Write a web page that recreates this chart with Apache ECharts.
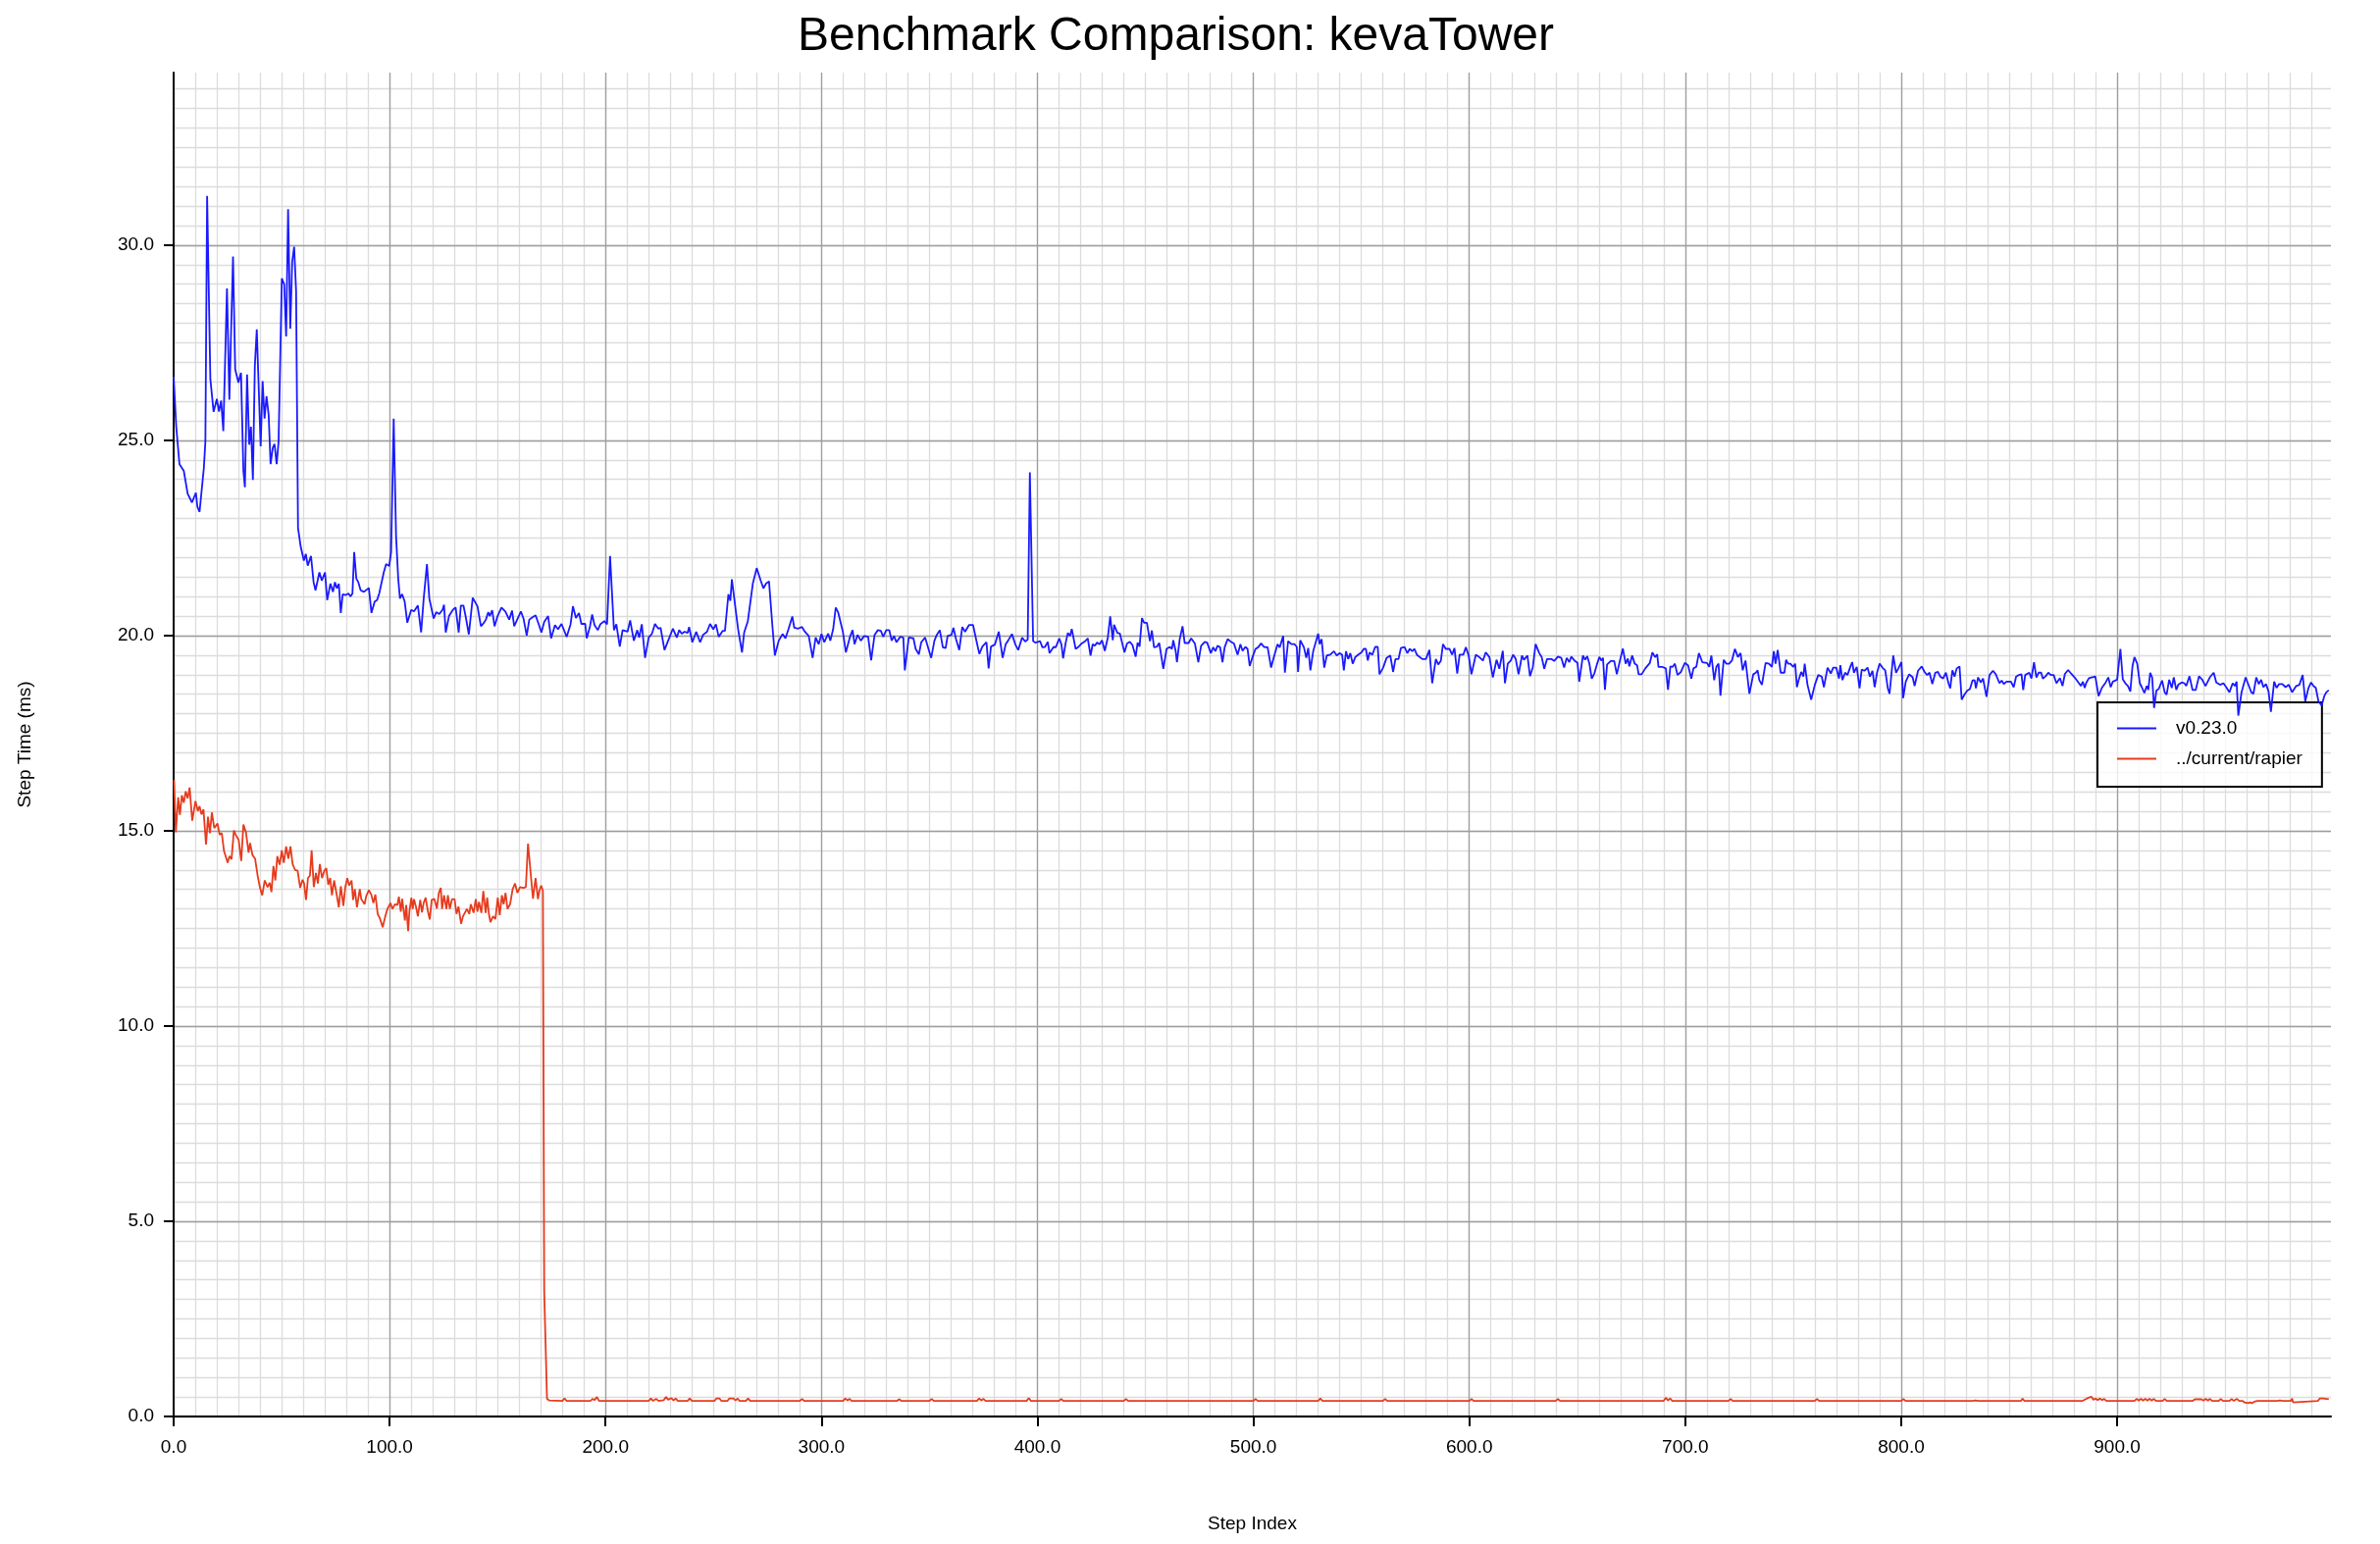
<!DOCTYPE html>
<html><head><meta charset="utf-8">
<script src="https://cdn.jsdelivr.net/npm/echarts@6/dist/echarts.min.js"></script>
<style>html,body{margin:0;padding:0;background:#fff}#c{width:2426px;height:1574px}</style>
</head><body><div id="c"></div>
<script>
const titleText = 'Benchmark Comparison: kevaTower';
const seriesNames = ['v0.23.0', '../current/rapier'];
const xAxisName = 'Step Index';
const yAxisName = 'Step Time (ms)';

const blueX = [0,1.2,2.7,4.7,6.5,8.5,10.3,11,12,14,14.7,15.5,17,18.5,20,21,22,23,24.7,25.8,27.5,28.5,30,31.2,32.3,33,34,35,35.8,36.7,37.6,38.5,40.3,41.2,42.1,43,44,44.9,45.9,46.7,47.7,48.6,50.1,51.2,52.1,53,54,54.9,55.8,56.7,57.6,58.8,60.3,61.2,62.1,63.6,64.8,65.7,67.5,68.6,70.1,71.1,72.6,73.8,74.7,75.6,76.5,77.4,78.3,79.8,81,81.9,82.8,83.6,84.6,85.5,86.6,88.1,90.4,91.6,93.1,94.2,95.2,96.1,97.3,98.4,99.8,100.7,101.9,103,104,104.8,105.8,107,108.2,110,111.3,113.1,114.6,115.8,117.3,118.4,
120.4,121.6,123,124.5,125.2,126,127.5,129.3,130.6,132,133,134.2,135.3,136.7,138.5,140.7,142.3,143.7,144.6,145.7,146.4,147.5,148.6,150,151.8,153.6,155.4,156.7,157.7,159.4,160.8,162,163.5,164.7,166.2,167.6,169,170.3,171.6,173.4,174.8,176.6,178,179.6,182,183.8,184.9,186.3,187.7,188.8,190.6,191.3,192.8,193.8,194.9,196.4,197.6,199.4,200.7,202.1,203.9,205,206.6,207.9,210.2,211.4,213.1,214.7,215.6,216.8,218.3,220,221.5,222.9,224.4,225.5,227.3,229,231.2,233,234.1,235.3,236.6,238,238.7,240.2,242,243.8,245.2,247,248.4,249.9,251.1,252.4,254.2,255.3,256.9,257.8,258.5,261.4,263.2,264.2,265.9,266.8,268.2,270,271.8,273.1,274.3,275.7,277.2,278.4,280.2,282,283.3,284.7,286.5,287.4,289.2,291,292.3,294.1,295.9,297.3,298.7,300,301.3,303.1,304.1,305.4,306.6,307.7,309.9,311.3,313.1,314.4,315.3,316.7,318.2,319.8,321.6,323,324.6,326.1,327.5,328.6,330,331.4,332.5,333.6,334.7,336.5,337.9,338.6,340.4,342.6,343.6,345.1,346.2,348,350.8,352.3,353.4,354.8,356.2,357.5,358.4,360.2,361.1,362.3,363.8,365.2,366.5,368.3,370.2,371.9,373.1,374.5,376.4,377.4,378.5,380.3,382.1,383.9,385.3,386.4,388.2,389.8,391.1,392.9,394.3,395.5,396.5,398,399,
400.2,401.2,402.3,403.5,404.8,405.6,406.5,407.5,408.5,410.1,411.1,411.9,413.1,414.1,415.1,415.9,416.7,417.7,419,420.5,421.3,422.2,423.3,424.6,425.6,426.6,427.6,428.8,429.9,431.2,432.6,433.7,434.9,435.5,437,438.2,439.2,440.3,441.5,442.8,444,445.5,446.4,447.3,448.4,449.4,450.7,452.1,453,454,455.4,456.4,458.3,459.8,461.3,462.3,462.9,464,464.6,465.9,467.2,468.2,470,471.2,472.9,474.5,475.8,477.5,478.6,480.3,481.4,482.4,483.4,484.6,485.7,486.7,488.1,489.4,491,492.7,494,495,496.3,497.3,498.3,499.6,501,502.2,503.6,504.9,506.6,508.2,509.5,511.2,512.2,513.8,514.6,516.1,517.6,519.1,520.1,520.7,521.7,523.4,524.5,525.4,526.4,527.7,530,530.7,531.6,532.8,534,535.6,537.3,538.6,539.9,541.1,541.9,542.9,543.9,544.9,546,547.2,548.5,550.1,551.1,552.1,553,553.8,555.1,556.4,557.6,558.4,560.1,561.7,563.4,564.7,565.8,567.2,568.3,570,571.3,572.4,573.6,574.6,575.7,578.2,579.9,581.5,582.8,584.5,585.6,586.8,587.8,589.1,590.8,592,593.1,594.4,595.5,597.2,598.4,599.7,601,603,604.6,606.3,607.6,609.3,610.9,612.6,613.9,615.5,616.5,617.8,619.2,620.3,621.5,622.8,624.4,625.3,626.9,628.1,629.4,630.7,632.4,633.5,634.7,636,638,639.3,641,642.6,643.9,645.1,646.3,647.2,648.9,650.1,650.9,
652.6,653.6,654.6,655.6,656.7,657.9,659.2,660.2,661.2,661.9,662.8,663.8,665.5,667.1,668.3,669.4,671.1,672.4,673.4,674.1,675.4,676.6,677.7,678.4,679.8,681.5,683.6,684.8,686,687,687.6,689.3,691,692,693.1,694.2,695.2,696.4,698,699.8,701.3,702.8,703.8,705.1,706.3,707.9,710.1,711.1,712.1,713.4,714.4,715.4,716.3,717.8,719,720.3,721.6,723,724.4,725.6,726.6,727.9,729.7,731.5,732.7,733.5,734.3,735.5,737.2,738.8,740.1,741,741.8,742.8,744.2,745.9,746.7,747.6,748.7,750,750.9,751.7,752.5,753.7,754.7,755.3,756.6,758.3,760,761.6,763.2,764.2,765.9,767.4,768.5,769.9,771.2,771.8,772.8,774,775.1,776.5,777.3,778.1,779.4,780.7,781.7,783,784.4,785.5,786.7,787.7,788.8,790,791.3,792.6,793.8,794.6,796.3,797.6,798.7,800.1,800.9,802.1,802.9,803.7,805.3,806.2,807.8,809.5,810.8,812,813.1,814.4,815.8,817,818.1,819.4,820.7,821.9,822.7,823.7,824.7,825.7,827,828,829.3,830.6,831.8,833,834,834.6,835.6,836.8,837.9,839.5,840.9,842.5,843.8,845.5,846.5,847.5,848.8,850.8,852.1,853.2,854.4,855.7,856.5,857.4,859.3,860.3,861.5,862.6,863.6,864.8,865.6,866.9,868.1,869.3,870.6,871.9,
873.5,874.7,875.8,877.3,878.8,880.3,881.4,882.3,883.2,884.1,885,885.6,886.9,888.1,889.9,891.4,892.9,894.7,895.9,897,898,900,901.5,902.6,903.8,905,906.1,907.1,908,909.3,910.5,911.4,912.6,913.7,914.4,915.3,916.2,917.1,918.2,919.2,920.8,922,922.9,924.1,925.3,926.2,927.4,928.3,929.9,931.1,932,933.5,934.9,936.4,937.9,939.4,940.9,942.9,944.7,945.9,947.7,949.2,950.5,952,953.5,954.5,955.3,956.1,957.6,959.5,961,962.1,963.1,964.4,965.6,966.7,967.7,968.9,970.1,971.2,972.7,973.8,975,976.5,978,979.5,981,982.9,984.4,985.9,987.1,988.6,989.8,990.9,992,993.2,994.7,995.9,996.9,998];
const blueY = [26.63,25.35,24.39,24.22,23.63,23.41,23.66,23.30,23.17,24.30,24.97,31.26,26.57,25.73,26.06,25.74,26.02,25.24,28.89,26.04,29.71,26.82,26.48,26.73,24.22,23.80,26.69,24.89,25.35,23.99,26.90,27.84,24.85,26.52,25.56,26.13,25.65,24.39,24.81,24.91,24.39,24.97,29.15,29.0,27.66,30.92,27.86,29.58,29.96,28.83,22.76,22.29,21.92,22.09,21.79,22.04,21.37,21.16,21.62,21.41,21.62,20.91,21.33,21.12,21.37,21.21,21.33,20.58,21.06,21.04,21.08,21.0,21.08,22.14,21.46,21.37,21.16,21.12,21.22,20.58,20.87,20.91,21.08,21.04,21.62,21.83,21.78,22.13,25.56,22.55,21.46,20.95,21.06,20.87,20.33,20.66,20.62,20.77,20.08,20.95,21.83,20.95,
20.44,20.60,20.55,20.66,20.79,20.08,20.5,20.66,20.72,20.08,20.77,20.77,20.47,20.03,20.97,20.75,20.24,20.33,20.41,20.60,20.5,20.65,20.24,20.5,20.72,20.62,20.41,20.64,20.24,20.45,20.62,20.44,20.0,20.41,20.47,20.52,20.30,20.08,20.35,20.5,19.93,20.27,20.16,20.30,19.97,20.29,20.75,20.45,20.58,20.30,20.30,19.93,20.24,20.54,20.27,20.14,20.29,20.37,20.29,22.04,20.14,20.29,19.72,20.14,20.10,20.39,19.87,20.14,19.95,20.29,19.43,19.95,20.05,20.30,20.18,20.20,19.63,19.87,20.18,19.95,20.14,20.05,20.10,20.07,20.22,19.83,20.10,19.83,20.02,20.10,20.30,20.16,20.29,19.97,20.12,20.12,21.06,20.89,21.44,20.16,19.57,20.08,20.37,20.33,21.33,21.73,21.42,21.21,21.33,21.39,20.30,19.49,19.87,20.04,19.93,20.16,20.49,20.20,20.18,20.22,20.10,19.99,19.43,19.95,19.78,20.04,19.83,20.05,19.87,20.16,20.72,20.60,20.10,19.57,19.95,20.14,19.78,20.02,19.87,19.99,19.97,19.37,20.02,20.14,20.12,19.97,20.14,20.14,19.87,19.99,19.83,19.97,19.95,19.11,19.95,19.93,19.66,19.52,19.83,19.95,19.43,19.87,20.02,20.14,19.70,19.68,19.99,20.02,20.20,19.91,19.63,20.22,20.10,20.27,20.27,19.83,19.53,19.72,19.83,19.16,19.72,19.77,20.10,19.43,19.78,19.87,20.04,19.77,19.63,19.95,19.85,19.9,24.18,19.86,19.82,
19.84,19.86,19.70,19.71,19.84,19.55,19.51,19.71,19.70,19.93,19.78,19.42,19.82,20.07,19.99,20.17,20.13,19.66,19.71,19.80,19.76,19.86,19.93,19.49,19.78,19.74,19.82,19.78,19.88,19.61,19.95,20.49,19.88,20.28,20.07,20.05,19.82,19.57,19.80,19.84,19.76,19.46,19.82,19.72,20.45,20.33,20.33,19.86,20.13,19.70,19.72,19.81,19.15,19.66,19.71,19.66,19.88,19.61,19.32,19.91,20.24,19.81,19.81,19.93,19.80,19.32,19.74,19.84,19.82,19.55,19.70,19.60,19.74,19.70,19.32,19.70,19.91,19.85,19.80,19.51,19.78,19.61,19.71,19.66,19.22,19.45,19.66,19.70,19.80,19.71,19.70,19.18,19.45,19.78,19.70,19.99,19.05,19.86,19.78,19.78,19.71,19.07,19.88,19.70,19.43,19.68,19.11,19.60,20.05,19.78,19.91,19.18,19.49,19.51,19.60,19.49,19.55,19.51,19.11,19.60,19.40,19.55,19.28,19.45,19.51,19.57,19.66,19.66,19.36,19.57,19.51,19.71,19.71,19.01,19.18,19.43,19.49,19.07,19.40,19.40,19.68,19.71,19.55,19.66,19.60,19.66,19.51,19.40,19.40,19.63,18.78,19.40,19.26,19.35,19.78,19.66,19.66,19.51,19.68,19.03,19.51,19.51,19.70,19.49,19.01,19.51,19.45,19.36,19.57,19.45,18.93,19.38,19.15,19.61,18.78,19.28,19.36,19.51,19.40,19.01,19.49,19.38,19.49,18.96,19.19,19.78,19.55,19.45,19.15,19.40,19.40,19.35,19.46,19.43,19.18,19.43,19.32,19.46,19.35,19.30,18.82,
19.49,19.38,19.47,19.28,18.90,19.03,19.28,19.45,19.36,19.43,18.61,19.26,19.35,19.35,19.01,19.28,19.67,19.28,19.41,19.21,19.49,19.28,19.24,19.01,19.01,19.16,19.30,19.57,19.45,19.52,19.20,19.20,19.16,18.61,19.21,19.20,19.28,18.99,19.07,19.30,19.24,18.90,19.16,19.20,19.55,19.32,19.30,19.20,19.49,18.86,19.20,19.28,18.46,19.38,19.28,19.28,19.36,19.66,19.45,19.55,19.11,19.36,18.51,19.01,19.05,19.11,18.86,18.74,19.30,19.28,19.20,19.60,19.28,19.63,19.05,19.05,19.38,19.28,19.28,19.20,19.28,18.68,18.86,19.07,18.95,19.28,18.74,18.36,18.74,18.99,18.95,18.68,19.18,19.03,19.18,19.18,18.90,19.24,18.86,19.05,18.99,19.21,19.32,19.05,19.20,18.65,19.13,19.10,19.18,18.95,19.10,18.68,19.05,19.28,19.18,19.11,18.65,18.51,19.49,19.05,19.16,19.32,18.40,18.82,18.78,19.01,18.93,18.71,19.10,19.21,19.07,18.99,19.05,18.76,19.05,19.07,18.95,18.90,19.05,18.78,18.65,19.11,18.95,19.16,19.21,18.36,18.49,18.59,18.63,18.85,18.86,18.65,18.93,18.80,18.90,18.43,18.99,19.10,19.01,18.78,18.85,18.76,18.82,18.82,18.68,18.95,18.99,19.01,18.61,18.99,19.05,18.90,19.32,18.93,19.05,19.05,18.90,18.96,19.05,18.99,18.99,18.78,
18.91,18.71,19.02,19.12,19.02,18.93,18.85,18.88,18.71,18.82,18.66,18.78,18.91,18.93,18.95,18.45,18.66,18.80,18.93,18.68,18.82,18.87,19.66,18.88,18.78,18.71,18.57,19.22,19.45,19.28,18.78,18.68,18.53,18.71,18.61,19.05,18.93,18.15,18.60,18.63,18.85,18.55,18.49,18.87,18.66,18.93,18.61,18.74,18.80,18.78,18.71,18.96,18.61,18.61,18.96,18.87,18.71,18.93,19.05,18.80,18.74,18.78,18.68,18.55,18.78,18.71,18.82,17.95,18.55,18.93,18.71,18.55,18.51,18.93,18.76,18.87,18.68,18.76,18.57,18.05,18.82,18.66,18.76,18.76,18.68,18.74,18.55,18.71,18.74,18.99,18.32,18.66,18.80,18.71,18.66,18.32,18.21,18.45,18.55,18.6];

const redX = [0.2,1,2.1,2.9,3.8,4.7,5.6,6.5,7.4,8.6,10.1,11.2,12,12.9,13.8,15,15.9,16.8,17.7,18.8,20.3,21.3,22.3,23.3,24.1,25,25.9,26.8,27.9,28.9,30.1,31.3,32.3,33.5,34.7,35.4,36.5,37.7,38.9,40,41,42.2,43.5,44.5,45.3,46.2,47.1,48,49.1,50.1,51,52.1,53.1,54.1,55.1,56.2,57.4,58.6,59.7,60.4,61.3,62.2,63.1,63.9,64.9,65.9,66.8,67.7,68.7,69.8,70.7,71.6,72.5,73.3,74.3,75.3,76.5,77.4,78.6,79.5,80.4,81.3,82.4,83.1,83.9,84.9,86.2,86.9,88.4,89.2,90.4,91.5,92.5,93.4,94.5,95.5,96.8,98,99,100.4,101.3,102.5,103.6,104.3,105.2,105.8,107.1,107.7,108.6,109.2,110.1,110.7,111.3,112.2,113.1,114.2,115,115.8,116.7,117.7,118.6,119.5,120.7,121.9,122.8,123.7,124.3,125.2,126.3,127,127.9,128.9,130.1,131,131.9,133.1,134,134.9,135.8,136.9,137.6,138.9,139.9,140.7,141.4,142.5,143.4,144.5,145.2,146,146.7,147.9,149,150.1,151,152,152.8,153.7,154.6,155.8,157,158.1,159.2,160.4,161.9,163.1,164.1,164.9,166.4,167.6,168.7,169.4,170.2,171,171.6,172.9,
174,180,181,182,193,194,195,196,197,220,221,222,223.5,224.5,227,228,229,230.5,231.5,232.5,233.5,238,239,240,250.5,251.3,252,252.8,253.6,256.5,257.3,258.2,259.2,260.2,261.2,262,265,266,267,290,291,292,310,311,312,313,314,335,336,337,350,351,352,372,373,374,375,376,395,396,397,410,411,412,440,441,442,500,501,502,530,531,532,560,561,562,600,601,602,640,641,642,690,691,692,693,694,720,721,722,760,761,762,800,801,802,
833,833.5,834.3,835,835.7,855.5,856.2,857,859,859.8,860.6,865.5,866.2,867,872,872.8,873.6,884,886,888,889,890,891,892,893,894,895,908,909,910,911,912,913,914,915,916,917,918,921,922,923,926,926.8,927.6,935,936,939,940,941,942,943,944,947,948,949,952,953,954,955.5,956.5,958,959,960.5,961.5,962.5,963.5,965,967,967.6,968.3,974,974.6,975.3,976,976.8,980.5,981,981.5,982,993,993.8,994.6,995.4,996.2,997,998];
const redY = [16.30,14.96,15.86,15.41,15.91,15.72,16.01,15.83,16.11,15.26,15.76,15.51,15.63,15.42,15.55,14.65,15.36,14.94,15.47,15.07,15.19,14.90,14.94,14.49,14.49,14.18,14.35,14.27,15.01,14.88,14.77,14.23,15.16,14.96,14.44,14.69,14.38,14.29,13.85,13.54,13.35,13.73,13.56,13.67,13.43,14.10,13.73,14.35,14.13,14.50,14.18,14.60,14.29,14.60,14.15,14.00,13.98,13.54,13.75,13.65,13.23,13.79,13.85,14.50,13.56,13.92,13.65,14.15,13.79,13.98,14.04,13.62,13.79,13.35,13.73,13.43,13.04,13.58,13.08,13.56,13.79,13.60,13.73,13.23,13.51,13.04,13.51,13.25,13.12,13.33,13.48,13.37,13.15,13.37,12.87,12.76,12.53,12.81,13.0,13.15,13.0,13.12,13.10,13.31,12.93,13.26,12.70,13.10,12.43,12.95,13.29,13.0,13.25,13.06,12.81,13.23,12.91,13.16,13.29,12.95,12.73,13.23,13.26,13.01,13.41,13.54,13.0,13.35,13.0,13.35,13.0,13.25,13.25,12.87,13.06,12.62,12.81,12.83,13.0,12.87,13.12,12.90,13.25,12.93,13.18,12.90,13.46,12.90,13.29,12.87,12.66,12.81,12.74,13.29,12.84,13.35,13.12,13.41,13.0,13.12,13.51,13.65,13.41,13.56,13.54,13.56,14.67,14.67,13.26,13.79,13.25,13.48,13.60,13.46,3.2,0.45,
0.41,0.40,0.46,0.40,0.40,0.45,0.42,0.50,0.40,0.40,0.46,0.40,0.45,0.40,0.42,0.50,0.43,0.47,0.41,0.46,0.40,0.40,0.46,0.40,0.40,0.46,0.41,0.46,0.40,0.40,0.46,0.41,0.46,0.41,0.46,0.40,0.40,0.46,0.40,0.40,0.45,0.40,0.40,0.46,0.41,0.45,0.40,0.40,0.44,0.40,0.40,0.45,0.40,0.40,0.46,0.41,0.45,0.40,0.40,0.47,0.40,0.40,0.45,0.40,0.40,0.45,0.40,0.40,0.45,0.40,0.40,0.46,0.40,0.40,0.45,0.40,0.40,0.45,0.40,0.40,0.45,0.40,0.40,0.48,0.41,0.46,0.40,0.40,0.45,0.40,0.40,0.45,0.40,0.40,0.45,0.40,
0.40,0.45,0.41,0.45,0.40,0.40,0.46,0.40,0.40,0.45,0.40,0.40,0.45,0.40,0.40,0.45,0.40,0.40,0.46,0.51,0.43,0.46,0.42,0.46,0.42,0.45,0.40,0.40,0.45,0.41,0.45,0.41,0.45,0.41,0.45,0.41,0.45,0.40,0.40,0.45,0.40,0.40,0.45,0.40,0.40,0.44,0.44,0.41,0.45,0.41,0.45,0.40,0.40,0.45,0.40,0.40,0.45,0.40,0.45,0.40,0.40,0.36,0.34,0.36,0.34,0.38,0.40,0.40,0.45,0.40,0.40,0.45,0.41,0.45,0.40,0.40,0.46,0.36,0.40,0.40,0.46,0.41,0.46,0.41,0.45,0.44];

function pairs(xs, ys) { return xs.map((x, i) => [x, ys[i]]); }

const FONT = '"Liberation Sans", Arial, Helvetica, sans-serif';
const chart = echarts.init(document.getElementById('c'), null, { renderer: 'canvas' });
const majorLine = { color: '#9e9e9e', width: 1.3 };
const minorLine = { color: '#dcdcdc', width: 1.3 };
chart.setOption({
  animation: false,
  backgroundColor: '#ffffff',
  textStyle: { fontFamily: FONT },
  title: {
    text: titleText, left: 808, top: 9,
    textStyle: { fontFamily: FONT, fontSize: 48, fontWeight: 'normal', color: '#000' }
  },
  grid: { left: 177, right: 50, top: 74, bottom: 130, containLabel: false },
  legend: {
    orient: 'vertical', left: 2138, top: 716,
    padding: [17, 20, 19, 20], itemGap: 12, itemWidth: 40, itemHeight: 2,
    icon: 'rect',
    borderColor: '#000', borderWidth: 2, borderRadius: 0,
    backgroundColor: 'rgba(255,255,255,0.8)',
    textStyle: { fontFamily: FONT, fontSize: 19, color: '#000', padding: [0, 0, 0, 15] },
    data: seriesNames
  },
  xAxis: [
    {
      type: 'value', min: 0, max: 999, interval: 100, position: 'bottom', z: 3,
      name: xAxisName, nameLocation: 'middle', nameGap: 100,
      nameTextStyle: { fontFamily: FONT, fontSize: 19, color: '#000' },
      axisLine: { show: true, onZero: false, lineStyle: { color: '#000', width: 2 } },
      axisTick: { show: true, inside: false, length: 10, lineStyle: { color: '#000', width: 2 } },
      axisLabel: { fontFamily: FONT, fontSize: 19, color: '#000', margin: 22, showMaxLabel: false,
        formatter: v => v.toFixed(1) },
      splitLine: { show: true, showMinLine: false, showMaxLine: false, lineStyle: majorLine }
    },
    {
      type: 'value', min: 0, max: 999, interval: 10, position: 'bottom', z: 0,
      axisLine: { show: false }, axisTick: { show: false }, axisLabel: { show: false },
      splitLine: { show: true, showMinLine: false, showMaxLine: false, lineStyle: minorLine }
    }
  ],
  yAxis: [
    {
      type: 'value', min: 0, max: 34.42, interval: 5, position: 'left', z: 3,
      name: yAxisName, nameLocation: 'middle', nameGap: 142, nameRotate: 90,
      nameTextStyle: { fontFamily: FONT, fontSize: 19, color: '#000' },
      axisLine: { show: true, onZero: false, lineStyle: { color: '#000', width: 2 } },
      axisTick: { show: true, inside: false, length: 10, lineStyle: { color: '#000', width: 2 } },
      axisLabel: { fontFamily: FONT, fontSize: 19, color: '#000', margin: 20, showMaxLabel: false,
        formatter: v => v.toFixed(1) },
      splitLine: { show: true, showMinLine: true, showMaxLine: false, lineStyle: majorLine }
    },
    {
      type: 'value', min: 0, max: 34.42, interval: 0.5, position: 'left', z: 0,
      axisLine: { show: false }, axisTick: { show: false }, axisLabel: { show: false },
      splitLine: { show: true, showMinLine: false, showMaxLine: false, lineStyle: minorLine }
    }
  ],
  series: [
    {
      name: seriesNames[0], type: 'line', xAxisIndex: 0, yAxisIndex: 0,
      data: pairs(blueX, blueY), showSymbol: false, symbol: 'none', z: 5,
      lineStyle: { color: '#1a1aff', width: 1.8 }, itemStyle: { color: '#1a1aff' }
    },
    {
      name: seriesNames[1], type: 'line', xAxisIndex: 0, yAxisIndex: 0,
      data: pairs(redX, redY), showSymbol: false, symbol: 'none', z: 5,
      lineStyle: { color: '#e63b1e', width: 1.8 }, itemStyle: { color: '#e63b1e' }
    }
  ]
});
</script></body></html>
